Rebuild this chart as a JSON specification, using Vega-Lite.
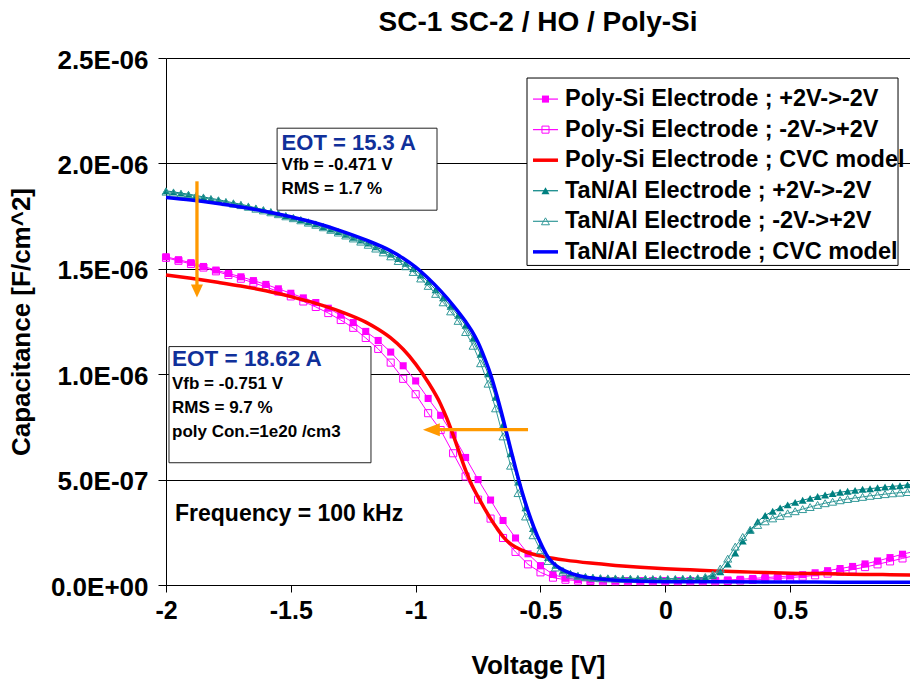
{
  "$schema": "https://vega.github.io/schema/vega-lite/v6.json",
  "width": 744,
  "height": 527,
  "autosize": {"type": "none"},
  "padding": {"left": 166, "top": 58, "right": 0, "bottom": 99},
  "background": "white",
  "title": {"text": "SC-1 SC-2 / HO / Poly-Si", "font": "Liberation Sans", "fontSize": 28, "fontWeight": "bold", "color": "black", "anchor": "middle", "offset": 10},
  "config": {
    "font": "Liberation Sans",
    "view": {"stroke": null},
    "axis": {"domainColor": "black", "domainWidth": 1, "tickColor": "black", "tickWidth": 1, "labelFont": "Liberation Sans", "labelFontSize": 25, "labelFontWeight": "bold", "labelColor": "black", "titleFont": "Liberation Sans", "titleFontSize": 26, "titleFontWeight": "bold", "titleColor": "black", "labelFlush": false, "labelOverlap": false},
    "text": {"font": "Liberation Sans", "fontWeight": "bold", "align": "left", "baseline": "middle", "color": "black"}
  },
  "datasets": {
    "polyDown": [
      {"V": -2, "C": 1.557e-6}, {"V": -1.95, "C": 1.543e-6}, {"V": -1.9, "C": 1.529e-6}, {"V": -1.85, "C": 1.511e-6}, {"V": -1.8, "C": 1.494e-6}, {"V": -1.75, "C": 1.478e-6}, {"V": -1.7, "C": 1.462e-6}, {"V": -1.65, "C": 1.444e-6}, {"V": -1.6, "C": 1.426e-6}, {"V": -1.55, "C": 1.405e-6}, {"V": -1.5, "C": 1.384e-6}, {"V": -1.45, "C": 1.362e-6}, {"V": -1.4, "C": 1.34e-6}, {"V": -1.35, "C": 1.313e-6}, {"V": -1.3, "C": 1.28e-6}, {"V": -1.25, "C": 1.245e-6}, {"V": -1.2, "C": 1.203e-6}, {"V": -1.15, "C": 1.16e-6}, {"V": -1.1, "C": 1.105e-6}, {"V": -1.05, "C": 1.04e-6}, {"V": -1, "C": 0.968e-6}, {"V": -0.95, "C": 0.885e-6}, {"V": -0.9, "C": 0.805e-6}, {"V": -0.85, "C": 0.712e-6}, {"V": -0.8, "C": 0.605e-6}, {"V": -0.75, "C": 0.5e-6}, {"V": -0.7, "C": 0.403e-6}, {"V": -0.65, "C": 0.306e-6}, {"V": -0.6, "C": 0.223e-6}, {"V": -0.55, "C": 0.148e-6}, {"V": -0.5, "C": 0.092e-6}, {"V": -0.45, "C": 0.05e-6}, {"V": -0.4, "C": 0.032e-6}, {"V": -0.35, "C": 0.026e-6}, {"V": -0.3, "C": 0.023e-6}, {"V": -0.25, "C": 0.022e-6}, {"V": -0.2, "C": 0.021e-6}, {"V": -0.15, "C": 0.02e-6}, {"V": -0.1, "C": 0.02e-6}, {"V": -0.05, "C": 0.02e-6}, {"V": 0, "C": 0.02e-6}, {"V": 0.05, "C": 0.02e-6}, {"V": 0.1, "C": 0.021e-6}, {"V": 0.15, "C": 0.021e-6}, {"V": 0.2, "C": 0.022e-6}, {"V": 0.25, "C": 0.024e-6}, {"V": 0.3, "C": 0.027e-6}, {"V": 0.35, "C": 0.031e-6}, {"V": 0.4, "C": 0.035e-6}, {"V": 0.45, "C": 0.039e-6}, {"V": 0.5, "C": 0.043e-6}, {"V": 0.55, "C": 0.049e-6}, {"V": 0.6, "C": 0.058e-6}, {"V": 0.65, "C": 0.068e-6}, {"V": 0.7, "C": 0.078e-6}, {"V": 0.75, "C": 0.088e-6}, {"V": 0.8, "C": 0.1e-6}, {"V": 0.85, "C": 0.114e-6}, {"V": 0.9, "C": 0.13e-6}, {"V": 0.95, "C": 0.146e-6}, {"V": 1, "C": 0.16e-6}
    ],
    "polyUp": [
      {"V": -2, "C": 1.552e-6}, {"V": -1.95, "C": 1.538e-6}, {"V": -1.9, "C": 1.523e-6}, {"V": -1.85, "C": 1.506e-6}, {"V": -1.8, "C": 1.488e-6}, {"V": -1.75, "C": 1.471e-6}, {"V": -1.7, "C": 1.453e-6}, {"V": -1.65, "C": 1.434e-6}, {"V": -1.6, "C": 1.414e-6}, {"V": -1.55, "C": 1.392e-6}, {"V": -1.5, "C": 1.369e-6}, {"V": -1.45, "C": 1.345e-6}, {"V": -1.4, "C": 1.319e-6}, {"V": -1.35, "C": 1.29e-6}, {"V": -1.3, "C": 1.257e-6}, {"V": -1.25, "C": 1.22e-6}, {"V": -1.2, "C": 1.172e-6}, {"V": -1.15, "C": 1.12e-6}, {"V": -1.1, "C": 1.055e-6}, {"V": -1.05, "C": 0.978e-6}, {"V": -1, "C": 0.905e-6}, {"V": -0.95, "C": 0.815e-6}, {"V": -0.9, "C": 0.735e-6}, {"V": -0.85, "C": 0.625e-6}, {"V": -0.8, "C": 0.515e-6}, {"V": -0.75, "C": 0.405e-6}, {"V": -0.7, "C": 0.315e-6}, {"V": -0.65, "C": 0.223e-6}, {"V": -0.6, "C": 0.157e-6}, {"V": -0.55, "C": 0.098e-6}, {"V": -0.5, "C": 0.06e-6}, {"V": -0.45, "C": 0.035e-6}, {"V": -0.4, "C": 0.025e-6}, {"V": -0.35, "C": 0.021e-6}, {"V": -0.3, "C": 0.019e-6}, {"V": -0.25, "C": 0.018e-6}, {"V": -0.2, "C": 0.018e-6}, {"V": -0.15, "C": 0.018e-6}, {"V": -0.1, "C": 0.018e-6}, {"V": -0.05, "C": 0.018e-6}, {"V": 0, "C": 0.018e-6}, {"V": 0.05, "C": 0.018e-6}, {"V": 0.1, "C": 0.018e-6}, {"V": 0.15, "C": 0.018e-6}, {"V": 0.2, "C": 0.018e-6}, {"V": 0.25, "C": 0.019e-6}, {"V": 0.3, "C": 0.021e-6}, {"V": 0.35, "C": 0.024e-6}, {"V": 0.4, "C": 0.027e-6}, {"V": 0.45, "C": 0.031e-6}, {"V": 0.5, "C": 0.035e-6}, {"V": 0.55, "C": 0.04e-6}, {"V": 0.6, "C": 0.046e-6}, {"V": 0.65, "C": 0.054e-6}, {"V": 0.7, "C": 0.063e-6}, {"V": 0.75, "C": 0.073e-6}, {"V": 0.8, "C": 0.085e-6}, {"V": 0.85, "C": 0.098e-6}, {"V": 0.9, "C": 0.112e-6}, {"V": 0.95, "C": 0.126e-6}, {"V": 1, "C": 0.14e-6}
    ],
    "polyModel": [
      {"V": -2, "C": 1.471e-6}, {"V": -1.9, "C": 1.455e-6}, {"V": -1.8, "C": 1.437e-6}, {"V": -1.7, "C": 1.418e-6}, {"V": -1.6, "C": 1.396e-6}, {"V": -1.5, "C": 1.368e-6}, {"V": -1.4, "C": 1.336e-6}, {"V": -1.3, "C": 1.297e-6}, {"V": -1.2, "C": 1.247e-6}, {"V": -1.15, "C": 1.213e-6}, {"V": -1.1, "C": 1.172e-6}, {"V": -1.05, "C": 1.118e-6}, {"V": -1, "C": 1.048e-6}, {"V": -0.95, "C": 0.962e-6}, {"V": -0.9, "C": 0.858e-6}, {"V": -0.875, "C": 0.79e-6}, {"V": -0.85, "C": 0.712e-6}, {"V": -0.825, "C": 0.628e-6}, {"V": -0.8, "C": 0.545e-6}, {"V": -0.775, "C": 0.475e-6}, {"V": -0.75, "C": 0.418e-6}, {"V": -0.725, "C": 0.365e-6}, {"V": -0.7, "C": 0.315e-6}, {"V": -0.675, "C": 0.27e-6}, {"V": -0.65, "C": 0.23e-6}, {"V": -0.625, "C": 0.2e-6}, {"V": -0.6, "C": 0.18e-6}, {"V": -0.55, "C": 0.153e-6}, {"V": -0.5, "C": 0.138e-6}, {"V": -0.45, "C": 0.127e-6}, {"V": -0.4, "C": 0.118e-6}, {"V": -0.3, "C": 0.104e-6}, {"V": -0.2, "C": 0.093e-6}, {"V": -0.1, "C": 0.084e-6}, {"V": 0, "C": 0.077e-6}, {"V": 0.1, "C": 0.072e-6}, {"V": 0.2, "C": 0.067e-6}, {"V": 0.3, "C": 0.063e-6}, {"V": 0.4, "C": 0.059e-6}, {"V": 0.5, "C": 0.056e-6}, {"V": 0.6, "C": 0.054e-6}, {"V": 0.7, "C": 0.052e-6}, {"V": 0.8, "C": 0.05e-6}, {"V": 0.9, "C": 0.049e-6}, {"V": 1, "C": 0.047e-6}
    ],
    "tanDown": [
      {"V": -2, "C": 1.87e-6}, {"V": -1.97, "C": 1.865e-6}, {"V": -1.94, "C": 1.859e-6}, {"V": -1.91, "C": 1.854e-6}, {"V": -1.88, "C": 1.848e-6}, {"V": -1.85, "C": 1.841e-6}, {"V": -1.82, "C": 1.834e-6}, {"V": -1.79, "C": 1.828e-6}, {"V": -1.76, "C": 1.82e-6}, {"V": -1.73, "C": 1.813e-6}, {"V": -1.7, "C": 1.806e-6}, {"V": -1.67, "C": 1.798e-6}, {"V": -1.64, "C": 1.789e-6}, {"V": -1.61, "C": 1.781e-6}, {"V": -1.58, "C": 1.772e-6}, {"V": -1.55, "C": 1.763e-6}, {"V": -1.52, "C": 1.753e-6}, {"V": -1.49, "C": 1.744e-6}, {"V": -1.46, "C": 1.734e-6}, {"V": -1.43, "C": 1.723e-6}, {"V": -1.4, "C": 1.713e-6}, {"V": -1.37, "C": 1.701e-6}, {"V": -1.34, "C": 1.689e-6}, {"V": -1.31, "C": 1.677e-6}, {"V": -1.28, "C": 1.664e-6}, {"V": -1.25, "C": 1.65e-6}, {"V": -1.22, "C": 1.636e-6}, {"V": -1.19, "C": 1.622e-6}, {"V": -1.16, "C": 1.605e-6}, {"V": -1.13, "C": 1.588e-6}, {"V": -1.1, "C": 1.57e-6}, {"V": -1.07, "C": 1.549e-6}, {"V": -1.04, "C": 1.526e-6}, {"V": -1.01, "C": 1.501e-6}, {"V": -0.98, "C": 1.471e-6}, {"V": -0.95, "C": 1.438e-6}, {"V": -0.92, "C": 1.401e-6}, {"V": -0.89, "C": 1.363e-6}, {"V": -0.86, "C": 1.322e-6}, {"V": -0.83, "C": 1.279e-6}, {"V": -0.8, "C": 1.232e-6}, {"V": -0.77, "C": 1.17e-6}, {"V": -0.74, "C": 1.094e-6}, {"V": -0.71, "C": 1.002e-6}, {"V": -0.68, "C": 0.89e-6}, {"V": -0.65, "C": 0.76e-6}, {"V": -0.62, "C": 0.622e-6}, {"V": -0.59, "C": 0.488e-6}, {"V": -0.56, "C": 0.366e-6}, {"V": -0.53, "C": 0.268e-6}, {"V": -0.5, "C": 0.188e-6}, {"V": -0.47, "C": 0.13e-6}, {"V": -0.44, "C": 0.094e-6}, {"V": -0.41, "C": 0.07e-6}, {"V": -0.38, "C": 0.056e-6}, {"V": -0.35, "C": 0.046e-6}, {"V": -0.32, "C": 0.041e-6}, {"V": -0.29, "C": 0.037e-6}, {"V": -0.26, "C": 0.035e-6}, {"V": -0.23, "C": 0.034e-6}, {"V": -0.2, "C": 0.033e-6}, {"V": -0.17, "C": 0.032e-6}, {"V": -0.14, "C": 0.032e-6}, {"V": -0.11, "C": 0.031e-6}, {"V": -0.08, "C": 0.031e-6}, {"V": -0.05, "C": 0.03e-6}, {"V": -0.02, "C": 0.03e-6}, {"V": 0.01, "C": 0.03e-6}, {"V": 0.04, "C": 0.03e-6}, {"V": 0.07, "C": 0.031e-6}, {"V": 0.1, "C": 0.031e-6}, {"V": 0.13, "C": 0.033e-6}, {"V": 0.16, "C": 0.036e-6}, {"V": 0.19, "C": 0.044e-6}, {"V": 0.22, "C": 0.063e-6}, {"V": 0.25, "C": 0.1e-6}, {"V": 0.28, "C": 0.152e-6}, {"V": 0.31, "C": 0.208e-6}, {"V": 0.34, "C": 0.26e-6}, {"V": 0.37, "C": 0.301e-6}, {"V": 0.4, "C": 0.33e-6}, {"V": 0.43, "C": 0.35e-6}, {"V": 0.46, "C": 0.366e-6}, {"V": 0.49, "C": 0.38e-6}, {"V": 0.52, "C": 0.392e-6}, {"V": 0.55, "C": 0.402e-6}, {"V": 0.58, "C": 0.411e-6}, {"V": 0.61, "C": 0.42e-6}, {"V": 0.64, "C": 0.427e-6}, {"V": 0.67, "C": 0.434e-6}, {"V": 0.7, "C": 0.44e-6}, {"V": 0.73, "C": 0.445e-6}, {"V": 0.76, "C": 0.449e-6}, {"V": 0.79, "C": 0.454e-6}, {"V": 0.82, "C": 0.457e-6}, {"V": 0.85, "C": 0.461e-6}, {"V": 0.88, "C": 0.465e-6}, {"V": 0.91, "C": 0.468e-6}, {"V": 0.94, "C": 0.471e-6}, {"V": 0.97, "C": 0.475e-6}, {"V": 1, "C": 0.478e-6}
    ],
    "tanUp": [
      {"V": -2, "C": 1.866e-6}, {"V": -1.97, "C": 1.861e-6}, {"V": -1.94, "C": 1.855e-6}, {"V": -1.91, "C": 1.85e-6}, {"V": -1.88, "C": 1.844e-6}, {"V": -1.85, "C": 1.837e-6}, {"V": -1.82, "C": 1.83e-6}, {"V": -1.79, "C": 1.824e-6}, {"V": -1.76, "C": 1.816e-6}, {"V": -1.73, "C": 1.809e-6}, {"V": -1.7, "C": 1.802e-6}, {"V": -1.67, "C": 1.794e-6}, {"V": -1.64, "C": 1.785e-6}, {"V": -1.61, "C": 1.777e-6}, {"V": -1.58, "C": 1.768e-6}, {"V": -1.55, "C": 1.759e-6}, {"V": -1.52, "C": 1.749e-6}, {"V": -1.49, "C": 1.74e-6}, {"V": -1.46, "C": 1.73e-6}, {"V": -1.43, "C": 1.719e-6}, {"V": -1.4, "C": 1.709e-6}, {"V": -1.37, "C": 1.697e-6}, {"V": -1.34, "C": 1.685e-6}, {"V": -1.31, "C": 1.672e-6}, {"V": -1.28, "C": 1.658e-6}, {"V": -1.25, "C": 1.644e-6}, {"V": -1.22, "C": 1.629e-6}, {"V": -1.19, "C": 1.614e-6}, {"V": -1.16, "C": 1.596e-6}, {"V": -1.13, "C": 1.578e-6}, {"V": -1.1, "C": 1.559e-6}, {"V": -1.07, "C": 1.537e-6}, {"V": -1.04, "C": 1.512e-6}, {"V": -1.01, "C": 1.485e-6}, {"V": -0.98, "C": 1.454e-6}, {"V": -0.95, "C": 1.419e-6}, {"V": -0.92, "C": 1.381e-6}, {"V": -0.89, "C": 1.341e-6}, {"V": -0.86, "C": 1.298e-6}, {"V": -0.83, "C": 1.253e-6}, {"V": -0.8, "C": 1.2e-6}, {"V": -0.77, "C": 1.135e-6}, {"V": -0.74, "C": 1.052e-6}, {"V": -0.71, "C": 0.955e-6}, {"V": -0.68, "C": 0.838e-6}, {"V": -0.65, "C": 0.705e-6}, {"V": -0.62, "C": 0.566e-6}, {"V": -0.59, "C": 0.436e-6}, {"V": -0.56, "C": 0.325e-6}, {"V": -0.53, "C": 0.236e-6}, {"V": -0.5, "C": 0.165e-6}, {"V": -0.47, "C": 0.114e-6}, {"V": -0.44, "C": 0.083e-6}, {"V": -0.41, "C": 0.063e-6}, {"V": -0.38, "C": 0.05e-6}, {"V": -0.35, "C": 0.042e-6}, {"V": -0.32, "C": 0.037e-6}, {"V": -0.29, "C": 0.034e-6}, {"V": -0.26, "C": 0.032e-6}, {"V": -0.23, "C": 0.031e-6}, {"V": -0.2, "C": 0.03e-6}, {"V": -0.17, "C": 0.029e-6}, {"V": -0.14, "C": 0.029e-6}, {"V": -0.11, "C": 0.028e-6}, {"V": -0.08, "C": 0.028e-6}, {"V": -0.05, "C": 0.028e-6}, {"V": -0.02, "C": 0.028e-6}, {"V": 0.01, "C": 0.028e-6}, {"V": 0.04, "C": 0.028e-6}, {"V": 0.07, "C": 0.029e-6}, {"V": 0.1, "C": 0.03e-6}, {"V": 0.13, "C": 0.032e-6}, {"V": 0.16, "C": 0.038e-6}, {"V": 0.19, "C": 0.05e-6}, {"V": 0.22, "C": 0.078e-6}, {"V": 0.25, "C": 0.125e-6}, {"V": 0.28, "C": 0.182e-6}, {"V": 0.31, "C": 0.228e-6}, {"V": 0.34, "C": 0.262e-6}, {"V": 0.37, "C": 0.285e-6}, {"V": 0.4, "C": 0.302e-6}, {"V": 0.43, "C": 0.316e-6}, {"V": 0.46, "C": 0.328e-6}, {"V": 0.49, "C": 0.34e-6}, {"V": 0.52, "C": 0.35e-6}, {"V": 0.55, "C": 0.36e-6}, {"V": 0.58, "C": 0.37e-6}, {"V": 0.61, "C": 0.38e-6}, {"V": 0.64, "C": 0.388e-6}, {"V": 0.67, "C": 0.395e-6}, {"V": 0.7, "C": 0.402e-6}, {"V": 0.73, "C": 0.408e-6}, {"V": 0.76, "C": 0.413e-6}, {"V": 0.79, "C": 0.418e-6}, {"V": 0.82, "C": 0.423e-6}, {"V": 0.85, "C": 0.427e-6}, {"V": 0.88, "C": 0.431e-6}, {"V": 0.91, "C": 0.435e-6}, {"V": 0.94, "C": 0.438e-6}, {"V": 0.97, "C": 0.441e-6}, {"V": 1, "C": 0.444e-6}
    ],
    "tanModel": [
      {"V": -2, "C": 1.838e-6}, {"V": -1.9, "C": 1.826e-6}, {"V": -1.8, "C": 1.811e-6}, {"V": -1.7, "C": 1.793e-6}, {"V": -1.6, "C": 1.772e-6}, {"V": -1.5, "C": 1.747e-6}, {"V": -1.4, "C": 1.717e-6}, {"V": -1.3, "C": 1.68e-6}, {"V": -1.2, "C": 1.637e-6}, {"V": -1.1, "C": 1.585e-6}, {"V": -1.05, "C": 1.55e-6}, {"V": -1, "C": 1.508e-6}, {"V": -0.95, "C": 1.455e-6}, {"V": -0.9, "C": 1.395e-6}, {"V": -0.85, "C": 1.327e-6}, {"V": -0.8, "C": 1.25e-6}, {"V": -0.775, "C": 1.205e-6}, {"V": -0.75, "C": 1.15e-6}, {"V": -0.725, "C": 1.08e-6}, {"V": -0.7, "C": 1.0e-6}, {"V": -0.675, "C": 0.9e-6}, {"V": -0.65, "C": 0.79e-6}, {"V": -0.625, "C": 0.672e-6}, {"V": -0.6, "C": 0.555e-6}, {"V": -0.575, "C": 0.447e-6}, {"V": -0.55, "C": 0.352e-6}, {"V": -0.525, "C": 0.27e-6}, {"V": -0.5, "C": 0.2e-6}, {"V": -0.475, "C": 0.142e-6}, {"V": -0.45, "C": 0.105e-6}, {"V": -0.425, "C": 0.082e-6}, {"V": -0.4, "C": 0.066e-6}, {"V": -0.35, "C": 0.045e-6}, {"V": -0.3, "C": 0.034e-6}, {"V": -0.25, "C": 0.027e-6}, {"V": -0.2, "C": 0.022e-6}, {"V": -0.1, "C": 0.018e-6}, {"V": 0, "C": 0.016e-6}, {"V": 0.2, "C": 0.015e-6}, {"V": 0.4, "C": 0.014e-6}, {"V": 0.6, "C": 0.014e-6}, {"V": 0.8, "C": 0.013e-6}, {"V": 1, "C": 0.013e-6}
    ]
  },
  "layer": [
    {
      "data": {"values": [{}]},
      "mark": {"type": "rect", "fill": "white", "stroke": "black", "strokeWidth": 1},
      "encoding": {
        "x": {"datum": -0.554, "type": "quantitative", "scale": {"domain": [-2, 0.98], "nice": false, "zero": false}, "axis": {"orient": "bottom", "values": [-2, -1.5, -1, -0.5, 0, 0.5], "labelExpr": "toString(datum.value)", "title": "Voltage [V]", "grid": false, "tickSize": 7, "labelPadding": 6, "titlePadding": 29}},
        "x2": {"datum": 0.932},
        "y": {"datum": 2.405e-6, "type": "quantitative", "scale": {"domain": [0, 2.5e-6], "nice": false, "zero": false}, "axis": {"orient": "left", "values": [0, 5e-7, 1e-6, 1.5e-6, 2e-6, 2.5e-6], "labelExpr": "datum.value == 0 ? '0.0E+00' : datum.value < 9e-7 ? format(datum.value * 1e7, '.1f') + 'E-07' : format(datum.value * 1e6, '.1f') + 'E-06'", "title": "Capacitance [F/cm^2]", "grid": true, "gridColor": "black", "gridOpacity": 1, "gridWidth": 1, "tickSize": 8, "labelPadding": 10, "labelOffset": 2, "labelFontSize": 26, "titlePadding": 16}},
        "y2": {"datum": 1.516e-6}
      }
    },
    {
      "data": {"values": [{}]},
      "mark": {"type": "rect", "fill": "white", "stroke": "#222222", "strokeWidth": 1},
      "encoding": {"x": {"datum": -1.555, "type": "quantitative"}, "x2": {"datum": -0.9145}, "y": {"datum": 2.167e-6, "type": "quantitative"}, "y2": {"datum": 1.778e-6}}
    },
    {
      "data": {"values": [{}]},
      "mark": {"type": "rect", "fill": "white", "stroke": "#222222", "strokeWidth": 1},
      "encoding": {"x": {"datum": -1.988, "type": "quantitative"}, "x2": {"datum": -1.179}, "y": {"datum": 1.131e-6, "type": "quantitative"}, "y2": {"datum": 0.58e-6}}
    },
    {
      "data": {"name": "polyDown"},
      "mark": {"type": "line", "strokeWidth": 1, "point": {"filled": true, "shape": "square", "size": 50, "opacity": 1}},
      "encoding": {
        "x": {"field": "V", "type": "quantitative"},
        "y": {"field": "C", "type": "quantitative"},
        "color": {
          "datum": "Poly-Si Electrode ; +2V->-2V",
          "type": "nominal",
          "scale": {
            "domain": ["Poly-Si Electrode ; +2V->-2V", "Poly-Si Electrode ; -2V->+2V", "Poly-Si Electrode ; CVC model", "TaN/Al Electrode ; +2V->-2V", "TaN/Al Electrode ; -2V->+2V", "TaN/Al Electrode ; CVC model"],
            "range": ["#FF00FF", "#FF00FF", "#FF0000", "#008080", "#339999", "#0000FF"]
          },
          "legend": null
        }
      }
    },
    {
      "data": {"name": "polyUp"},
      "mark": {"type": "line", "strokeWidth": 1, "point": {"filled": false, "shape": "square", "size": 50, "strokeWidth": 1, "opacity": 1}},
      "encoding": {"x": {"field": "V", "type": "quantitative"}, "y": {"field": "C", "type": "quantitative"}, "color": {"datum": "Poly-Si Electrode ; -2V->+2V", "type": "nominal"}}
    },
    {
      "data": {"name": "polyModel"},
      "mark": {"type": "line", "strokeWidth": 3.5, "interpolate": "monotone"},
      "encoding": {"x": {"field": "V", "type": "quantitative"}, "y": {"field": "C", "type": "quantitative"}, "color": {"datum": "Poly-Si Electrode ; CVC model", "type": "nominal"}}
    },
    {
      "data": {"name": "tanDown"},
      "mark": {"type": "line", "strokeWidth": 1, "point": {"filled": true, "shape": "triangle-up", "size": 64, "opacity": 1}},
      "encoding": {"x": {"field": "V", "type": "quantitative"}, "y": {"field": "C", "type": "quantitative"}, "color": {"datum": "TaN/Al Electrode ; +2V->-2V", "type": "nominal"}}
    },
    {
      "data": {"name": "tanUp"},
      "mark": {"type": "line", "strokeWidth": 1, "point": {"filled": false, "shape": "triangle-up", "size": 64, "strokeWidth": 1, "opacity": 1}},
      "encoding": {"x": {"field": "V", "type": "quantitative"}, "y": {"field": "C", "type": "quantitative"}, "color": {"datum": "TaN/Al Electrode ; -2V->+2V", "type": "nominal"}}
    },
    {
      "data": {"name": "tanModel"},
      "mark": {"type": "line", "strokeWidth": 3.5, "interpolate": "monotone"},
      "encoding": {"x": {"field": "V", "type": "quantitative"}, "y": {"field": "C", "type": "quantitative"}, "color": {"datum": "TaN/Al Electrode ; CVC model", "type": "nominal"}}
    },
    {"data": {"values": [{}]}, "mark": {"type": "rule", "color": "#FF00FF", "strokeWidth": 1.2}, "encoding": {"x": {"datum": -0.53, "type": "quantitative"}, "x2": {"datum": -0.43}, "y": {"datum": 2.3051e-6, "type": "quantitative"}}},
    {"data": {"values": [{}]}, "mark": {"type": "point", "shape": "square", "filled": true, "color": "#FF00FF", "size": 50, "opacity": 1}, "encoding": {"x": {"datum": -0.48, "type": "quantitative"}, "y": {"datum": 2.3051e-6, "type": "quantitative"}}},
    {"data": {"values": [{}]}, "mark": {"type": "rule", "color": "#FF00FF", "strokeWidth": 1.2}, "encoding": {"x": {"datum": -0.53, "type": "quantitative"}, "x2": {"datum": -0.43}, "y": {"datum": 2.1602e-6, "type": "quantitative"}}},
    {"data": {"values": [{}]}, "mark": {"type": "point", "shape": "square", "filled": false, "color": "#FF00FF", "strokeWidth": 1, "size": 50, "opacity": 1}, "encoding": {"x": {"datum": -0.48, "type": "quantitative"}, "y": {"datum": 2.1602e-6, "type": "quantitative"}}},
    {"data": {"values": [{}]}, "mark": {"type": "rule", "color": "#FF0000", "strokeWidth": 3.5}, "encoding": {"x": {"datum": -0.53, "type": "quantitative"}, "x2": {"datum": -0.43}, "y": {"datum": 2.0152e-6, "type": "quantitative"}}},
    {"data": {"values": [{}]}, "mark": {"type": "rule", "color": "#008080", "strokeWidth": 1.2}, "encoding": {"x": {"datum": -0.53, "type": "quantitative"}, "x2": {"datum": -0.43}, "y": {"datum": 1.8703e-6, "type": "quantitative"}}},
    {"data": {"values": [{}]}, "mark": {"type": "point", "shape": "triangle-up", "filled": true, "color": "#008080", "size": 64, "opacity": 1}, "encoding": {"x": {"datum": -0.48, "type": "quantitative"}, "y": {"datum": 1.8703e-6, "type": "quantitative"}}},
    {"data": {"values": [{}]}, "mark": {"type": "rule", "color": "#339999", "strokeWidth": 1.2}, "encoding": {"x": {"datum": -0.53, "type": "quantitative"}, "x2": {"datum": -0.43}, "y": {"datum": 1.7253e-6, "type": "quantitative"}}},
    {"data": {"values": [{}]}, "mark": {"type": "point", "shape": "triangle-up", "filled": false, "color": "#339999", "strokeWidth": 1, "size": 64, "opacity": 1}, "encoding": {"x": {"datum": -0.48, "type": "quantitative"}, "y": {"datum": 1.7253e-6, "type": "quantitative"}}},
    {"data": {"values": [{}]}, "mark": {"type": "rule", "color": "#0000FF", "strokeWidth": 3.5}, "encoding": {"x": {"datum": -0.53, "type": "quantitative"}, "x2": {"datum": -0.43}, "y": {"datum": 1.5803e-6, "type": "quantitative"}}},
    {"data": {"values": [{}]}, "mark": {"type": "text", "text": "Poly-Si Electrode ; +2V->-2V", "fontSize": 23.5}, "encoding": {"x": {"datum": -0.4018, "type": "quantitative"}, "y": {"datum": 2.3051e-6, "type": "quantitative"}}},
    {"data": {"values": [{}]}, "mark": {"type": "text", "text": "Poly-Si Electrode ; -2V->+2V", "fontSize": 23.5}, "encoding": {"x": {"datum": -0.4018, "type": "quantitative"}, "y": {"datum": 2.1602e-6, "type": "quantitative"}}},
    {"data": {"values": [{}]}, "mark": {"type": "text", "text": "Poly-Si Electrode ; CVC model", "fontSize": 23.5}, "encoding": {"x": {"datum": -0.4018, "type": "quantitative"}, "y": {"datum": 2.0152e-6, "type": "quantitative"}}},
    {"data": {"values": [{}]}, "mark": {"type": "text", "text": "TaN/Al Electrode ; +2V->-2V", "fontSize": 23.5}, "encoding": {"x": {"datum": -0.4018, "type": "quantitative"}, "y": {"datum": 1.8703e-6, "type": "quantitative"}}},
    {"data": {"values": [{}]}, "mark": {"type": "text", "text": "TaN/Al Electrode ; -2V->+2V", "fontSize": 23.5}, "encoding": {"x": {"datum": -0.4018, "type": "quantitative"}, "y": {"datum": 1.7253e-6, "type": "quantitative"}}},
    {"data": {"values": [{}]}, "mark": {"type": "text", "text": "TaN/Al Electrode ; CVC model", "fontSize": 23.5}, "encoding": {"x": {"datum": -0.4018, "type": "quantitative"}, "y": {"datum": 1.5803e-6, "type": "quantitative"}}},
    {"data": {"values": [{}]}, "mark": {"type": "text", "text": "EOT = 15.3 A", "fontSize": 22, "color": "#10309A"}, "encoding": {"x": {"datum": -1.537, "type": "quantitative"}, "y": {"datum": 2.098e-6, "type": "quantitative"}}},
    {"data": {"values": [{}]}, "mark": {"type": "text", "text": "Vfb = -0.471 V", "fontSize": 17}, "encoding": {"x": {"datum": -1.537, "type": "quantitative"}, "y": {"datum": 1.991e-6, "type": "quantitative"}}},
    {"data": {"values": [{}]}, "mark": {"type": "text", "text": "RMS = 1.7 %", "fontSize": 17}, "encoding": {"x": {"datum": -1.537, "type": "quantitative"}, "y": {"datum": 1.877e-6, "type": "quantitative"}}},
    {"data": {"values": [{}]}, "mark": {"type": "text", "text": "EOT = 18.62 A", "fontSize": 22.5, "color": "#10309A"}, "encoding": {"x": {"datum": -1.976, "type": "quantitative"}, "y": {"datum": 1.072e-6, "type": "quantitative"}}},
    {"data": {"values": [{}]}, "mark": {"type": "text", "text": "Vfb = -0.751 V", "fontSize": 17}, "encoding": {"x": {"datum": -1.976, "type": "quantitative"}, "y": {"datum": 0.955e-6, "type": "quantitative"}}},
    {"data": {"values": [{}]}, "mark": {"type": "text", "text": "RMS = 9.7 %", "fontSize": 17}, "encoding": {"x": {"datum": -1.976, "type": "quantitative"}, "y": {"datum": 0.841e-6, "type": "quantitative"}}},
    {"data": {"values": [{}]}, "mark": {"type": "text", "text": "poly Con.=1e20 /cm3", "fontSize": 17}, "encoding": {"x": {"datum": -1.976, "type": "quantitative"}, "y": {"datum": 0.727e-6, "type": "quantitative"}}},
    {"data": {"values": [{}]}, "mark": {"type": "text", "text": "Frequency = 100 kHz", "fontSize": 23}, "encoding": {"x": {"datum": -1.964, "type": "quantitative"}, "y": {"datum": 0.3375e-6, "type": "quantitative"}}},
    {"data": {"values": [{}]}, "mark": {"type": "rule", "color": "#FF9900", "strokeWidth": 3.3}, "encoding": {"x": {"datum": -1.876, "type": "quantitative"}, "y": {"datum": 1.915e-6, "type": "quantitative"}, "y2": {"datum": 1.41e-6}}},
    {"data": {"values": [{}]}, "mark": {"type": "point", "shape": "M-1,-2.1667H1L0,0Z", "filled": true, "color": "#FF9900", "size": 144, "strokeWidth": 0, "opacity": 1}, "encoding": {"x": {"datum": -1.876, "type": "quantitative"}, "y": {"datum": 1.364e-6, "type": "quantitative"}}},
    {"data": {"values": [{}]}, "mark": {"type": "rule", "color": "#FF9900", "strokeWidth": 3.3}, "encoding": {"x": {"datum": -0.55, "type": "quantitative"}, "x2": {"datum": -0.91}, "y": {"datum": 0.7367e-6, "type": "quantitative"}}},
    {"data": {"values": [{}]}, "mark": {"type": "point", "shape": "M0,0L2.6,-1L2.6,1Z", "filled": true, "color": "#FF9900", "size": 169, "strokeWidth": 0, "opacity": 1}, "encoding": {"x": {"datum": -0.971, "type": "quantitative"}, "y": {"datum": 0.7367e-6, "type": "quantitative"}}}
  ]
}
